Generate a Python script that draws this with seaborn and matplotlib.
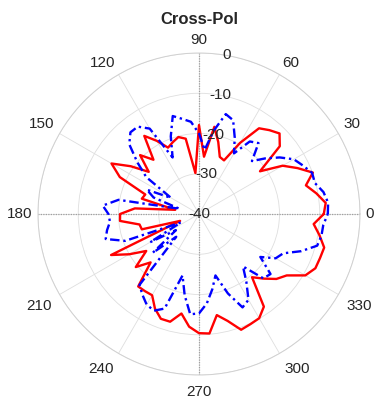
import numpy as np
import pandas as pd
import matplotlib
matplotlib.use("Agg")
import matplotlib.pyplot as plt
import seaborn as sns

# Sampled azimuth angles (degrees) and cross-polar levels (dB)
angles_deg = list(range(0, 360, 5))

xpol_a_db = [
    -9.0, -8.4, -10.4, -12.5, -9.9, -13.0, -16.0, -21.5, -13.8, -11.7,
    -12.8, -14.0, -19.6, -25.3, -24.9, -21.5, -18.0, -25.7, -17.9, -29.8,
    -21.0, -20.2, -21.0, -21.8, -19.0, -16.3, -22.4, -19.3, -23.7, -19.3,
    -14.9, -18.3, -25.8, -25.3, -34.0, -24.0, -20.4, -20.3, -25.0, -25.3,
    -35.0, -15.9, -20.0, -24.0, -19.5, -23.0, -16.5, -16.6, -16.7, -14.1,
    -12.3, -12.3, -14.9, -11.9, -10.4, -10.2, -14.5, -12.5, -9.4, -9.8,
    -10.1, -11.9, -19.5, -17.3, -14.9, -13.4, -9.5, -8.1, -8.0, -7.8,
    -9.6, -11.4,
]

xpol_b_db = [
    -8.0, -7.8, -8.6, -10.2, -10.1, -11.5, -12.8, -15.5, -18.5, -21.4,
    -17.0, -18.0, -22.6, -19.0, -15.2, -14.3, -19.0, -24.0, -20.0, -17.0,
    -16.0, -14.8, -19.5, -24.5, -15.5, -13.5, -13.5, -15.5, -20.0, -24.0,
    -32.0, -25.7, -28.0, -35.0, -19.7, -16.0, -17.5, -17.8, -16.8, -16.0,
    -20.5, -35.0, -26.0, -33.0, -25.0, -32.0, -17.0, -15.5, -14.0, -13.5,
    -15.0, -24.2, -19.5, -15.0, -15.3, -17.7, -21.0, -24.2, -19.0, -14.4,
    -15.4, -19.5, -23.0, -17.4, -16.8, -21.4, -18.0, -16.9, -13.0, -9.6,
    -9.1, -9.0,
]

r_ticks = [-40, -30, -20, -10, 0]
theta_ticks = list(range(0, 360, 30))

sns.set_theme(style="white")
plt.rcParams["font.family"] = ["Liberation Sans", "DejaVu Sans"]

R_MIN, R_MAX = -40, 0
LABEL_COLOR = "#262626"


def closed_frame(angles, values):
    th = np.deg2rad(list(angles) + [angles[0] + 360])
    return pd.DataFrame({"theta": th, "r": list(values) + [values[0]]})


fig = plt.figure(figsize=(3.75, 4.01), dpi=100)
ax = fig.add_axes([0.1013, 0.0648, 0.8587, 0.803], projection="polar")

df_a = closed_frame(angles_deg, xpol_a_db)
df_b = closed_frame(angles_deg, xpol_b_db)

sns.lineplot(data=df_a, x="theta", y="r", sort=False, ax=ax,
             color="#ff0000", lw=1.7, estimator=None, zorder=3)
sns.lineplot(data=df_b, x="theta", y="r", sort=False, ax=ax,
             color="#0000ff", lw=1.7, estimator=None, zorder=4,
             linestyle=(0, (4.0, 1.6, 1.0, 1.6)))

ax.set_ylim(R_MIN, R_MAX)
ax.set_yticks(r_ticks)
ax.set_yticklabels([])
ax.set_xticks(np.deg2rad(theta_ticks))
ax.set_xticklabels([])
ax.set_xlabel("")
ax.set_ylabel("")

ax.grid(True, color="#dedede", lw=0.6, ls="-")
ax.spines["polar"].set_color("#d0d0d0")
ax.spines["polar"].set_linewidth(0.7)

# principal axes drawn as darker dotted diameters
for t in (0, np.pi / 2, np.pi, 3 * np.pi / 2):
    ax.axvline(t, color="#a0a0a0", lw=0.9, ls=(0, (1, 1)), zorder=1)

# radial labels centred along the 80 degree spoke
for v in r_ticks:
    ax.text(np.deg2rad(80), v, str(v), ha="center", va="center",
            fontsize=11, color=LABEL_COLOR, zorder=5)

# spoke labels: the near edge of each label sits just outside the outer ring
ring = 0.5 * 1.035
for deg in theta_ticks:
    a = np.deg2rad(deg)
    c, s = np.cos(a), np.sin(a)
    ha = "left" if c > 0.1 else ("right" if c < -0.1 else "center")
    va = "bottom" if s > 0.1 else ("top" if s < -0.1 else "center")
    rr = ring + (0.012 if s < -0.1 else 0.0)
    ax.text(0.5 + rr * c, 0.5 + rr * s, str(deg),
            transform=ax.transAxes, ha=ha, va=va,
            fontsize=11, color=LABEL_COLOR, clip_on=False)

ax.set_title("Cross-Pol", fontsize=12, fontweight="bold", pad=21)

fig.savefig("out.png", dpi=100)
